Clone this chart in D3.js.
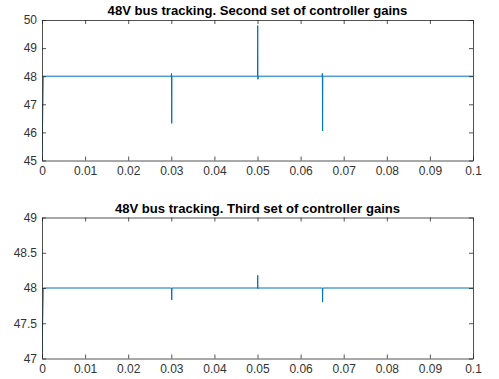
<!DOCTYPE html>
<html><head><meta charset="utf-8">
<script src="https://cdn.jsdelivr.net/npm/d3@7"></script>
<style>body{margin:0;background:#fff;}svg{display:block;}</style>
</head><body>
<script>
// Data
const times = [0, 0.0003, 0.0300, 0.03005, 0.0301, 0.03015, 0.0500, 0.05005, 0.0501, 0.05015, 0.0650, 0.06505, 0.0651, 0.06515, 0.1];
const series2 = [45, 48, 48, 48.1, 46.32, 48, 48, 49.8, 47.89, 48, 48, 48.1, 46.05, 48, 48];
const series3 = [47, 48, 48, 48, 47.83, 48, 48, 48.18, 47.99, 48, 48, 48, 47.8, 48, 48];
const titles = ["48V bus tracking. Second set of controller gains", "48V bus tracking. Third set of controller gains"];
const xTicks = [0, 0.01, 0.02, 0.03, 0.04, 0.05, 0.06, 0.07, 0.08, 0.09, 0.1];
const yTicks2 = [45, 46, 47, 48, 49, 50];
const yTicks3 = [47, 47.5, 48, 48.5, 49];

const W = 499, H = 379;
const svg = d3.select("body").append("svg").attr("width", W).attr("height", H);
const axisCol = "#262626";
const lineCol = "#0072BD";

function panel(top, bottom, yDomain, yTicks, vals, title) {
  const left = 42, right = 473;
  const x = d3.scaleLinear().domain([0, 0.1]).range([left, right]);
  const y = d3.scaleLinear().domain(yDomain).range([bottom, top]);
  const g = svg.append("g");
  const clipId = "clip" + Math.round(top);
  g.append("clipPath").attr("id", clipId).append("rect")
    .attr("x", left).attr("y", top).attr("width", right - left).attr("height", bottom - top);
  const pts = times.map((t, i) => [t, vals[i]]);
  g.append("path").datum(pts)
    .attr("clip-path", `url(#${clipId})`)
    .attr("fill", "none").attr("stroke", lineCol).attr("stroke-width", 1)
    .attr("d", d3.line().x(d => x(d[0])).y(d => y(d[1])));
  const fmtX = d => d === 0 ? "0" : d3.format("~g")(d);
  const tl = 4;
  const styleAxis = sel => {
    sel.select(".domain").attr("stroke", axisCol).attr("stroke-width", 0.8);
    sel.selectAll(".tick line").attr("stroke", axisCol).attr("stroke-width", 0.8);
    sel.selectAll("text").attr("fill", "#333").attr("font-family", "Liberation Sans, Arial, sans-serif").attr("font-size", 12);
  };
  g.append("g").attr("transform", `translate(0,${bottom})`)
    .call(d3.axisBottom(x).tickValues(xTicks).tickFormat(fmtX).tickSizeInner(-tl).tickSizeOuter(0).tickPadding(6))
    .call(styleAxis);
  g.append("g").attr("transform", `translate(0,${top})`)
    .call(d3.axisTop(x).tickValues(xTicks).tickFormat("").tickSizeInner(-tl).tickSizeOuter(0))
    .call(styleAxis);
  g.append("g").attr("transform", `translate(${left},0)`)
    .call(d3.axisLeft(y).tickValues(yTicks).tickFormat(d3.format("~g")).tickSizeInner(-tl).tickSizeOuter(0).tickPadding(5))
    .call(styleAxis);
  g.append("g").attr("transform", `translate(${right},0)`)
    .call(d3.axisRight(y).tickValues(yTicks).tickFormat("").tickSizeInner(-tl).tickSizeOuter(0))
    .call(styleAxis);
  g.append("text").attr("x", (left + right) / 2).attr("y", top - 5)
    .attr("text-anchor", "middle").attr("font-family", "Liberation Sans, Arial, sans-serif")
    .attr("font-weight", "bold").attr("font-size", 13.1).attr("fill", "#000").text(title);
}
panel(20, 160.5, [45, 50], yTicks2, series2, titles[0]);
panel(217.5, 358.5, [47, 49], yTicks3, series3, titles[1]);
</script>
</body></html>
